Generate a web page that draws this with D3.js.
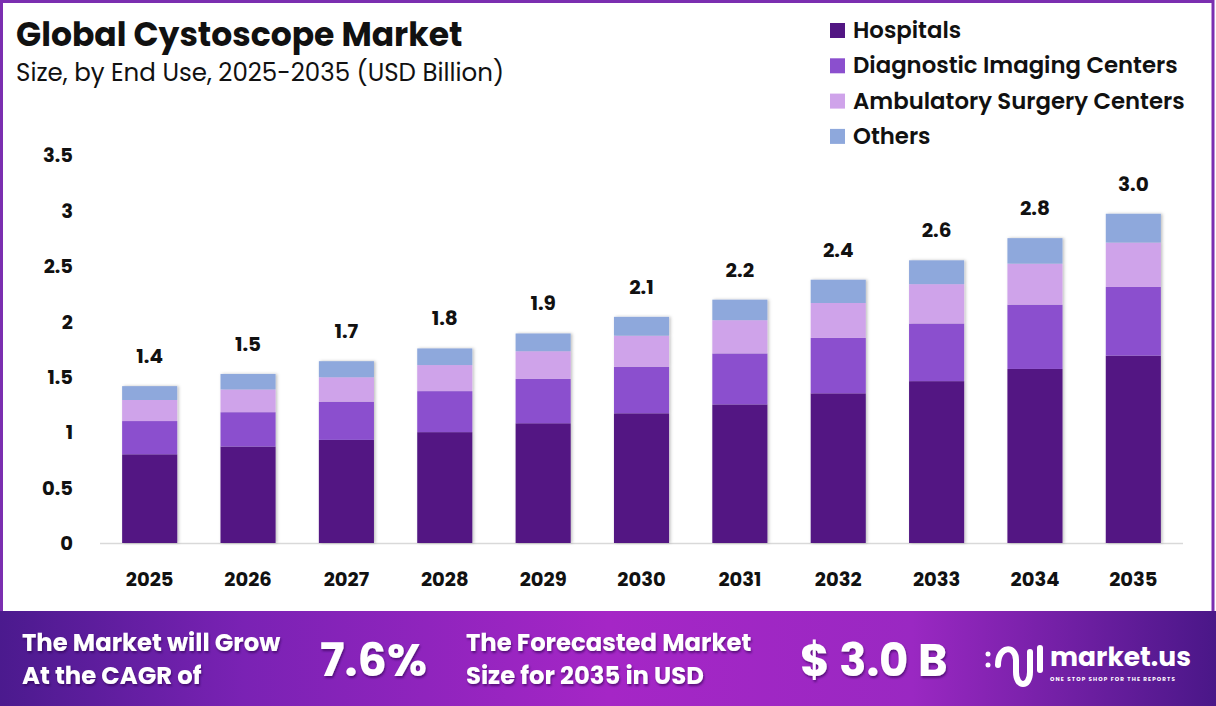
<!DOCTYPE html>
<html><head><meta charset="utf-8">
<script src="https://cdn.jsdelivr.net/npm/d3@7"></script>
<style>
html,body{margin:0;padding:0;background:#fff;}
svg{display:block;font-family:Poppins,Inter,"Open Sans",sans-serif;}
</style></head>
<body>
<svg id="chart" width="1216" height="706"></svg>
<script>
const years = ["2025","2026","2027","2028","2029","2030","2031","2032","2033","2034","2035"];
const seriesNames = ["Hospitals","Diagnostic Imaging Centers","Ambulatory Surgery Centers","Others"];
const hospitals  = [0.80,0.87,0.93,1.00,1.08,1.17,1.25,1.35,1.46,1.57,1.69];
const diagnostic = [0.30,0.31,0.345,0.37,0.40,0.42,0.46,0.50,0.52,0.58,0.62];
const ambulatory = [0.19,0.205,0.22,0.235,0.25,0.28,0.30,0.315,0.355,0.37,0.40];
const others     = [0.125,0.14,0.145,0.15,0.16,0.17,0.185,0.21,0.215,0.23,0.26];
const totalLabels = ["1.4","1.5","1.7","1.8","1.9","2.1","2.2","2.4","2.6","2.8","3.0"];
const yTicks = [0,0.5,1,1.5,2,2.5,3,3.5];
const colors = ["#521683","#8b4fce","#cfa3ea","#8ea8dc"];

(function(){
const svg = d3.select("#chart");
const W = 1216, H = 706;

svg.append("rect").attr("x",1.5).attr("y",1.5).attr("width",W-4.5).attr("height",612)
  .attr("fill","#fff").attr("stroke","#7b2fb0").attr("stroke-width",3);

const defs = svg.append("defs");
const f = defs.append("filter").attr("id","sh").attr("x","-20%").attr("y","-20%").attr("width","140%").attr("height","140%");
f.append("feDropShadow").attr("dx",1.5).attr("dy",0).attr("stdDeviation",1.5).attr("flood-color","#000").attr("flood-opacity",0.25);
const tsh = defs.append("filter").attr("id","tsh").attr("x","-20%").attr("y","-20%").attr("width","140%").attr("height","150%");
tsh.append("feDropShadow").attr("dx",1).attr("dy",2).attr("stdDeviation",1.2).attr("flood-color","#2a0050").attr("flood-opacity",0.6);

svg.append("text").attr("x",16).attr("y",46).attr("font-size",33).attr("font-weight",700)
  .attr("fill","#111").text("Global Cystoscope Market");
svg.append("text").attr("x",16).attr("y",81).attr("font-size",24.5).attr("font-weight",400)
  .attr("fill","#111").text("Size, by End Use, 2025-2035 (USD Billion)");

const x = d3.scaleBand().domain(years).range([100,1183]).paddingInner(0.44).paddingOuter(0.225);
const y = d3.scaleLinear().domain([0,3.5]).range([543,155]);

const data = years.map((yr,i)=>({year:yr,Hospitals:hospitals[i],"Diagnostic Imaging Centers":diagnostic[i],"Ambulatory Surgery Centers":ambulatory[i],Others:others[i]}));
const stack = d3.stack().keys(seriesNames)(data);

svg.append("line").attr("x1",100).attr("x2",1183).attr("y1",y(0)+0.5).attr("y2",y(0)+0.5)
  .attr("stroke","#d9d9d9").attr("stroke-width",1.5);

const yAxis = d3.axisLeft(y).tickValues(yTicks).tickSize(0).tickPadding(0).tickFormat(d3.format("~g"));
const yg = svg.append("g").attr("transform","translate(73,0)").call(yAxis);
yg.select(".domain").remove();
yg.selectAll("text").attr("font-size",19.5).attr("font-weight",700).attr("fill","#111")
  .attr("font-family","Poppins,Inter,sans-serif").attr("dy","0.35em");

const xAxis = d3.axisBottom(x).tickSize(0).tickPadding(0);
const xg = svg.append("g").attr("transform","translate(0,586)").call(xAxis);
xg.select(".domain").remove();
xg.selectAll("text").attr("font-size",19.5).attr("font-weight",700).attr("fill","#111")
  .attr("font-family","Poppins,Inter,sans-serif").attr("dy","0em");

const barG = svg.append("g").attr("filter","url(#sh)");
stack.forEach((s,si)=>{
  barG.append("g").attr("fill",colors[si]).selectAll("rect").data(s).join("rect")
    .attr("x",d=>x(d.data.year)).attr("width",x.bandwidth())
    .attr("y",d=>y(d[1])).attr("height",d=>y(d[0])-y(d[1]));
});

const topLayer = stack[stack.length-1];
svg.append("g").selectAll("text").data(topLayer).join("text")
  .attr("x",d=>x(d.data.year)+x.bandwidth()/2).attr("y",d=>y(d[1])-23)
  .attr("text-anchor","middle").attr("font-size",20).attr("font-weight",700).attr("fill","#111")
  .text((d,i)=>totalLabels[i]);

const lg = svg.append("g").attr("transform","translate(830,0)");
seriesNames.forEach((n,i)=>{
  const cy = 30 + i*35.3;
  lg.append("rect").attr("x",0).attr("y",cy-7).attr("width",15).attr("height",15).attr("fill",colors[i]);
  lg.append("text").attr("x",23).attr("y",cy).attr("dy","0.35em").attr("font-size",22.8).attr("font-weight",600)
    .attr("fill","#111").text(n);
});

const grad = defs.append("linearGradient").attr("id","bg").attr("x1","0").attr("x2","1").attr("y1","0").attr("y2","0");
[[0,"#4b1a8e"],[0.2,"#7a22b4"],[0.5,"#a526c6"],[0.75,"#9a28c2"],[1,"#4a1788"]].forEach(s=>
  grad.append("stop").attr("offset",s[0]).attr("stop-color",s[1]));
svg.append("rect").attr("x",0).attr("y",611).attr("width",W).attr("height",95).attr("fill","url(#bg)");

const bt = svg.append("g").attr("fill","#fff").attr("font-weight",700).attr("filter","url(#tsh)");
bt.append("text").attr("x",22).attr("y",651).attr("font-size",24.3).text("The Market will Grow");
bt.append("text").attr("x",22).attr("y",684).attr("font-size",24.3).text("At the CAGR of");
bt.append("text").attr("x",320).attr("y",676).attr("font-size",46).text("7.6%");
bt.append("text").attr("x",466).attr("y",651).attr("font-size",24.3).text("The Forecasted Market");
bt.append("text").attr("x",466).attr("y",684).attr("font-size",24.3).text("Size for 2035 in USD");
bt.append("text").attr("x",800).attr("y",676).attr("font-size",45).text("$ 3.0 B");

const logo = svg.append("g").attr("fill","none").attr("stroke","#fff").attr("stroke-linecap","round").attr("stroke-width",6);
logo.append("path").attr("d","M998,665 C998,645 1016,645 1016,660 L1016,672 C1016,688 1030,688 1030,672 L1030,652");
logo.append("line").attr("x1",1040).attr("x2",1040).attr("y1",648).attr("y2",670);
logo.append("circle").attr("cx",988).attr("cy",654).attr("r",2.5).attr("fill","#fff").attr("stroke","none");
logo.append("circle").attr("cx",988).attr("cy",665).attr("r",2.5).attr("fill","#fff").attr("stroke","none");
svg.append("text").attr("x",1050).attr("y",666).attr("font-size",26.5).attr("font-weight",700).attr("fill","#fff").text("market.us");
svg.append("text").attr("x",1050).attr("y",681).attr("font-size",5.6).attr("font-weight",700).attr("fill","#fff")
  .attr("letter-spacing",1.1).text("ONE STOP SHOP FOR THE REPORTS");
})();
</script>
</body></html>
